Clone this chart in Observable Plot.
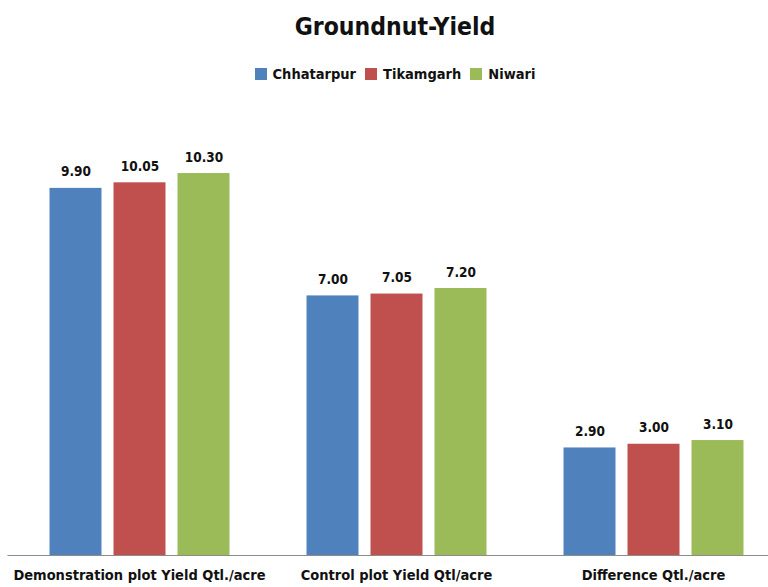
<!DOCTYPE html>
<html>
<head>
<meta charset="utf-8">
<script src="https://cdn.jsdelivr.net/npm/d3@7"></script>
<script src="https://cdn.jsdelivr.net/npm/@observablehq/plot@0.6"></script>
<style>
  html, body { margin: 0; padding: 0; background: #fff; }
  body { width: 768px; height: 587px; overflow: hidden; font-family: "Liberation Sans Narrow", "DejaVu Sans Condensed", "Liberation Sans", Arial, sans-serif; }
  #header { position: relative; width: 768px; height: 95px; }
  #title { position: absolute; left: 0; width: 790px; top: 12px; text-align: center; font-size: 24.5px; font-weight: bold; color: #111; }
  #legend { position: absolute; left: 0; width: 790px; top: 66px; display: flex; justify-content: center; gap: 9px; font-size: 14.5px; font-weight: bold; color: #111; }
  #legend span.item { display: flex; align-items: center; gap: 6px; }
  #legend span.sw { display: inline-block; width: 12px; height: 12px; }
</style>
</head>
<body>
<div id="header">
  <div id="title">Groundnut-Yield</div>
  <div id="legend"></div>
</div>
<div id="chart"></div>
<script>
const groups = ["Demonstration plot Yield Qtl./acre", "Control plot Yield Qtl/acre", "Difference Qtl./acre"];
const series = ["Chhatarpur", "Tikamgarh", "Niwari"];
const chhatarpur = [9.90, 7.00, 2.90];
const tikamgarh = [10.05, 7.05, 3.00];
const niwari = [10.30, 7.20, 3.10];
const colors = ["#4F81BD", "#C0504D", "#9BBB59"];

const valuesBySeries = [chhatarpur, tikamgarh, niwari];
const data = [];
groups.forEach((g, gi) => {
  series.forEach((s, si) => {
    data.push({group: g, series: s, value: valuesBySeries[si][gi]});
  });
});

const legend = document.getElementById("legend");
series.forEach((s, i) => {
  const item = document.createElement("span");
  item.className = "item";
  const sw = document.createElement("span");
  sw.className = "sw";
  sw.style.background = colors[i];
  item.appendChild(sw);
  item.appendChild(document.createTextNode(s));
  legend.appendChild(item);
});

const font = '"Liberation Sans Narrow", "DejaVu Sans Condensed", "Liberation Sans", Arial, sans-serif';

const chart = Plot.plot({
  width: 768,
  height: 492,
  marginLeft: 23.5,
  marginRight: 0,
  marginTop: 15,
  marginBottom: 32,
  style: {fontFamily: font, background: "#fff", color: "#111"},
  fx: {domain: groups, padding: 0.2, paddingOuter: 0.047, label: null, tickSize: 0, tickPadding: 14, axis: "bottom"},
  x: {domain: series, padding: 0.194, paddingOuter: 0.192, axis: null},
  y: {domain: [0, 12], axis: null},
  color: {domain: series, range: colors},
  marks: [
    Plot.barY(data, {fx: "group", x: "series", y: "value", fill: "series"}),
    Plot.text(data, {fx: "group", x: "series", y: "value", text: d => d.value.toFixed(2), lineAnchor: "bottom", dy: -12, fontSize: 13.5, fontWeight: "bold", fill: "#111"}),
    Plot.ruleY([0], {stroke: "#8c8c8c", strokeWidth: 1.2, insetLeft: -28.6, insetRight: -28.6})
  ]
});
chart.querySelectorAll('g[aria-label="fx-axis tick label"] text, g[aria-label="fx-axis"] text').forEach(t => {
  t.setAttribute("font-size", "14.5");
  t.setAttribute("font-weight", "bold");
});
document.getElementById("chart").appendChild(chart);
</script>
</body>
</html>
